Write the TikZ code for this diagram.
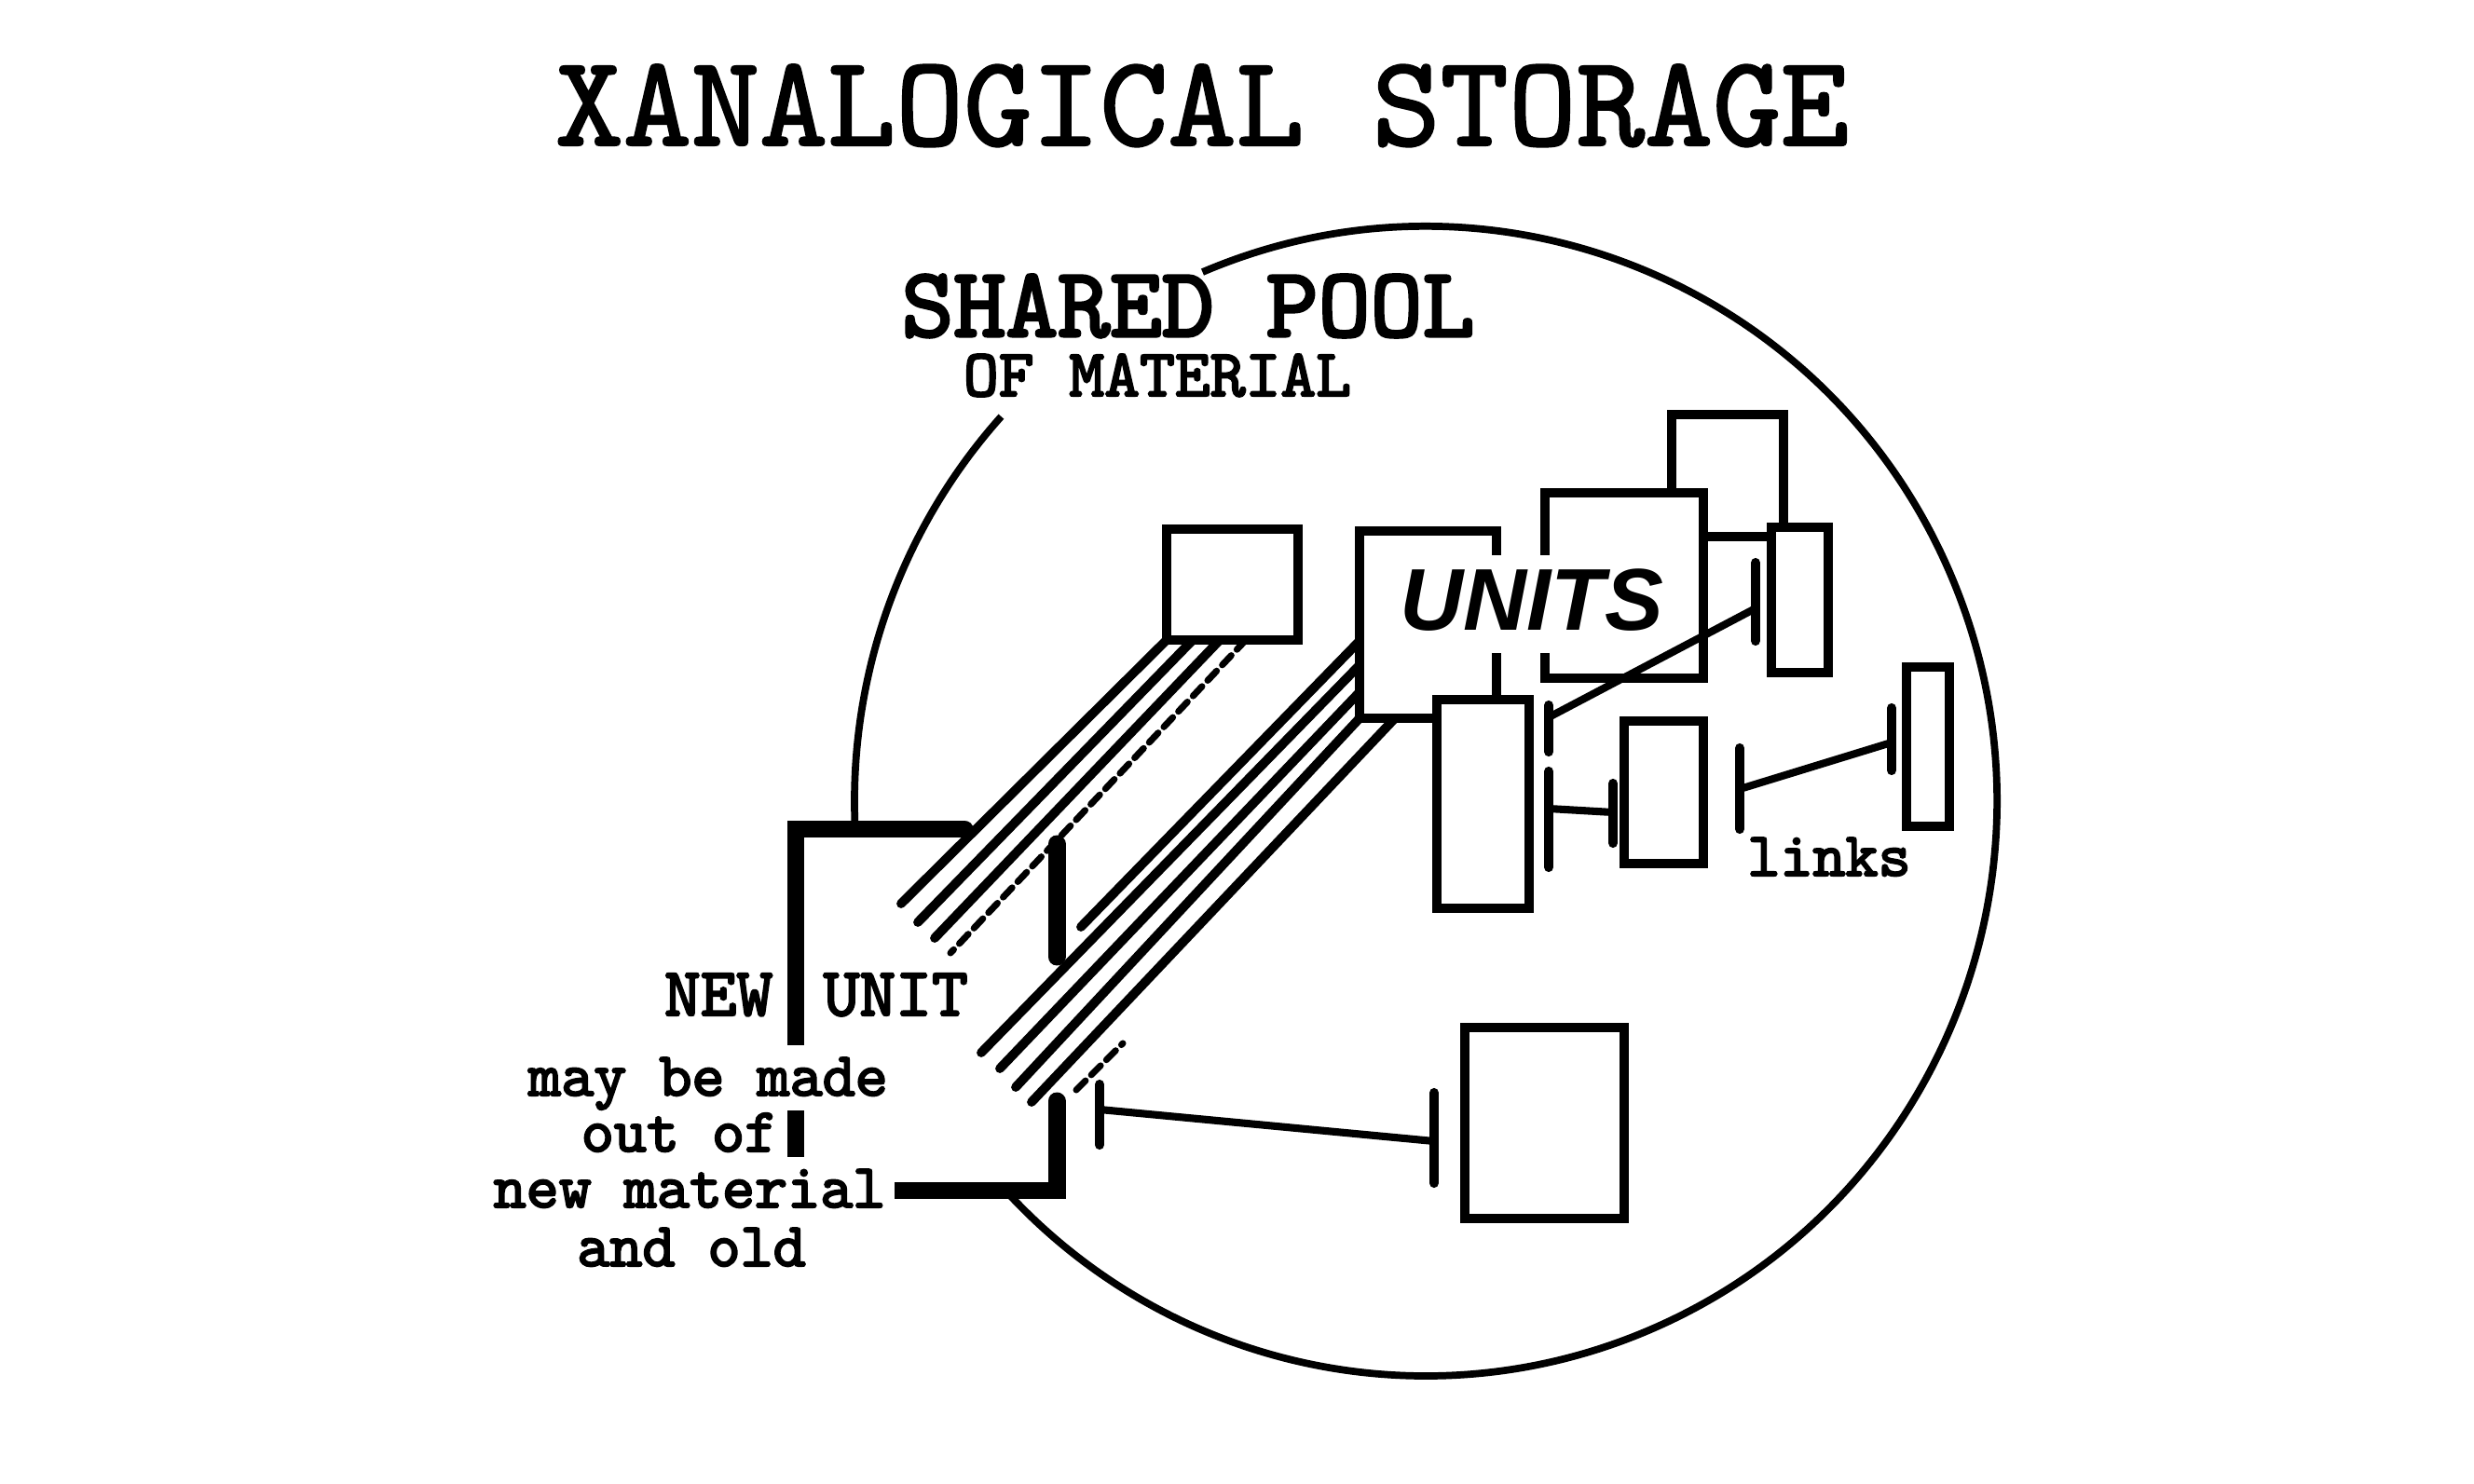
\documentclass[tikz,border=0pt]{standalone}
\usepackage{fontspec}
\newfontfamily\unitsfont{Liberation Sans}
\newfontfamily\heavytt{lmmono10-regular.otf}[FakeBold=3]
\newfontfamily\titlett{lmmono10-regular.otf}[FakeBold=1.6]
\usepackage{tikz}

\tikzset{
  unitbox/.style={draw, fill=white, line width=3.1pt, inner sep=0pt},
  hatch/.style={line width=2.8pt, line cap=round},
  faint/.style={line width=2pt, line cap=round, dash pattern=on 4pt off 2.5pt},
  poolline/.style={line width=2.2pt},
  newbox/.style={line width=5.4pt, line cap=round},
  linkline/.style={line width=2.3pt},
  tbar/.style={line width=2.9pt, line cap=round},
  caption/.style={font=\heavytt\fontsize{19pt}{20pt}\selectfont, fill=white, anchor=base,
    inner xsep=0.1cm, inner ysep=0.06cm, text height=0.48cm, text depth=0.1cm}
}

\begin{document}
\begin{tikzpicture}
	%\draw[help lines] (0,0) grid (26,15);
	\useasboundingbox (0,0) rectangle (26.55,15.92);
	\node[anchor=base, font=\titlett\fontsize{39.6pt}{44pt}\selectfont] (title) at (12.90,14.36) {XANALOGICAL STORAGE};
	\node[anchor=base, inner sep=0pt, font=\heavytt\fontsize{30.3pt}{32pt}\selectfont] (pool) at (12.75,12.31) {SHARED POOL};
	\node[anchor=base, inner sep=0pt, font=\heavytt\fontsize{20.5pt}{21pt}\selectfont] (material) at (12.42,11.67) {OF MATERIAL};
% the pool
	\coordinate (poolc) at (15.30,7.32);
	\draw[poolline] (poolc) ++(113:6.13 and 6.17) arc[start angle=113, end angle=-137, x radius=6.13, y radius=6.17];
	\draw[poolline] (poolc) ++(138:6.13 and 6.17) arc[start angle=138, end angle=183, x radius=6.13, y radius=6.17];
% units
	\node[unitbox, minimum width=1.20cm, minimum height=1.31cm] (back) at (18.54,10.815) {};
	\node[unitbox, minimum width=1.70cm, minimum height=1.99cm] (mid) at (17.43,9.635) {};
	\node[unitbox, minimum width=1.47cm, minimum height=2.01cm] (front) at (15.325,9.215) {};
	\node[unitbox, minimum width=0.61cm, minimum height=1.56cm] (slim) at (19.315,9.48) {};
	\node[unitbox, minimum width=1.41cm, minimum height=1.19cm] (small) at (13.225,9.645) {};
	\node[unitbox, minimum width=0.99cm, minimum height=2.24cm] (tall) at (15.915,7.29) {};
	\node[unitbox, minimum width=0.85cm, minimum height=1.53cm] (short) at (17.855,7.415) {};
	\node[unitbox, minimum width=0.46cm, minimum height=1.71cm] (edge) at (20.69,7.905) {};
	\node[unitbox, minimum width=1.71cm, minimum height=2.05cm] (lower) at (16.575,3.865) {};
	\node[anchor=base, fill=white, inner xsep=0.1cm, inner ysep=0.12cm, text height=0.68cm, text depth=0.13cm,
	      font=\unitsfont\bfseries\itshape\fontsize{26.8pt}{28pt}\selectfont] (units) at (16.44,9.16) {UNITS};
% material flowing to the new unit
	\foreach \sx/\ex/\ey in {12.52/9.67/6.22, 12.80/9.85/6.02, 13.09/10.03/5.85}
		\draw[hatch] (\sx,9.05) -- (\ex,\ey);
	\draw[faint] (13.37,9.05) -- (10.20,5.69);
	\foreach \sx/\sy/\ex/\ey in {14.59/9.04/11.60/5.97, 14.59/8.78/10.53/4.62, 14.59/8.49/10.73/4.45,
	                             14.59/8.21/10.90/4.25, 14.97/8.21/11.07/4.09}
		\draw[hatch] (\sx,\sy) -- (\ex,\ey);
	\draw[faint] (11.55,4.22) -- (12.05,4.72);
% new unit
	\draw[newbox] (10.35,7.02) -- (8.54,7.02) -- (8.54,3.14) -- (11.34,3.14) -- (11.34,4.10);
	\draw[newbox] (11.34,6.86) -- (11.34,5.65);
	\node[anchor=base east, inner sep=0pt, font=\heavytt\fontsize{21pt}{21pt}\selectfont] (newlbl) at (8.30,5.02) {NEW};
	\node[anchor=base west, inner sep=0pt, font=\heavytt\fontsize{21pt}{21pt}\selectfont] (unitlbl) at (8.83,5.02) {UNIT};
	\node[caption] (made) at (7.60,4.16) {may be made};
	\node[anchor=base, inner sep=0pt, font=\heavytt\fontsize{19pt}{20pt}\selectfont] (outof) at (7.29,3.56) {out of};
	\node[caption] (newmat) at (7.40,2.96) {new material};
	\node[caption] (oldmat) at (7.42,2.33) {and old};
% links
	\coordinate (ln1a) at (11.80,4.01);
	\coordinate (ln1b) at (15.39,3.67);
	\coordinate (ln2a) at (16.62,8.22);
	\coordinate (ln2b) at (18.84,9.39);
	\coordinate (ln3a) at (16.62,7.24);
	\coordinate (ln3b) at (17.31,7.20);
	\coordinate (ln4a) at (18.67,7.45);
	\coordinate (ln4b) at (20.30,7.95);
	\draw[linkline] (ln1a) -- (ln1b);
	\draw[linkline] (ln2a) -- (ln2b);
	\draw[linkline] (ln3a) -- (ln3b);
	\draw[linkline] (ln4a) -- (ln4b);
	\draw[tbar] ([yshift=0.27cm]ln1a) -- ([yshift=-0.38cm]ln1a);
	\draw[tbar] ([yshift=0.52cm]ln1b) -- ([yshift=-0.45cm]ln1b);
	\draw[tbar] ([yshift=0.13cm]ln2a) -- ([yshift=-0.37cm]ln2a);
	\draw[tbar] ([yshift=0.49cm]ln2b) -- ([yshift=-0.35cm]ln2b);
	\draw[tbar] ([yshift=0.40cm]ln3a) -- ([yshift=-0.63cm]ln3a);
	\draw[tbar] ([yshift=0.31cm]ln3b) -- ([yshift=-0.33cm]ln3b);
	\draw[tbar] ([yshift=0.44cm]ln4a) -- ([yshift=-0.43cm]ln4a);
	\draw[tbar] ([yshift=0.37cm]ln4b) -- ([yshift=-0.30cm]ln4b);
	\node[anchor=base, font=\heavytt\fontsize{19pt}{20pt}\selectfont] (linkslbl) at (19.63,6.52) {links};
\end{tikzpicture}
\end{document}
